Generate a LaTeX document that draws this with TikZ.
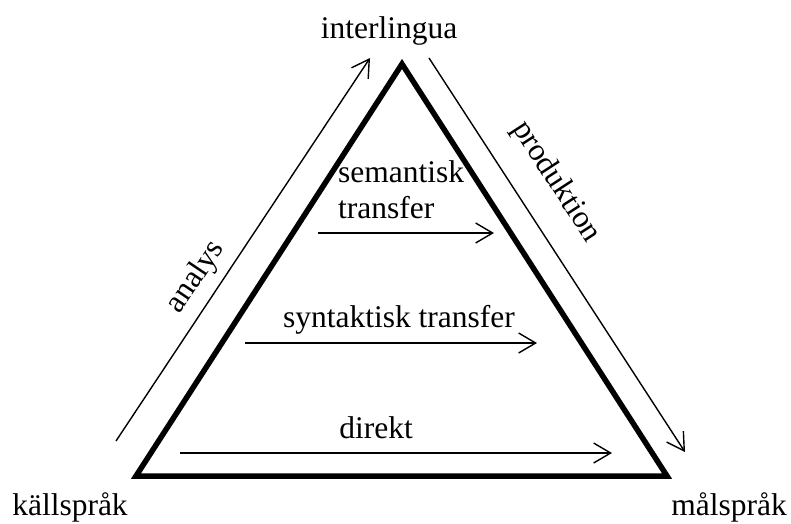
\documentclass[tikz,border=0pt]{standalone}
\usepackage{fontspec}
\setmainfont{Liberation Serif}
\usetikzlibrary{arrows.meta}
\begin{document}
\begin{tikzpicture}[x=1pt,y=-1pt,
  lbl/.style={font=\fontsize{31.5}{36}\selectfont, inner sep=0pt, anchor=base},
  arr/.style={line width=1.4pt, -{Straight Barb[length=17pt,width=20pt,line width=1.4pt]}},
  tri/.style={line width=5.5pt, line join=miter}]
\useasboundingbox (0,0) rectangle (791,523);
% triangle
\coordinate (L) at (136,476);
\coordinate (T) at (402,64);
\coordinate (R) at (667,476);
\draw[tri] (L) -- (T) -- (R) -- cycle;
% corner labels
\node[lbl] (il) at (389,38) {interlingua};
\node[lbl] (ks) at (70,515) {källspråk};
\node[lbl] (ms) at (729,515) {målspråk};
% analys arrow
\coordinate (a1) at (116,441);
\coordinate (a2) at (370,58);
\draw[arr] (a1) -- (a2);
\node[lbl, anchor=center, rotate=56] (an) at (196,277) {analys};
% produktion arrow
\coordinate (p1) at (429,58);
\coordinate (p2) at (685,452);
\draw[arr] (p1) -- (p2);
\node[lbl, anchor=center, rotate=-57] (pr) at (556,182) {produktion};
% semantisk transfer
\node[lbl, anchor=base west] (sem) at (338,182) {semantisk};
\node[lbl, anchor=base west] (sem2) at (338,218) {transfer};
\coordinate (s1) at (318,233);
\coordinate (s2) at (494,233);
\draw[arr] (s1) -- (s2);
% syntaktisk transfer
\node[lbl] (syn) at (399,327) {syntaktisk transfer};
\coordinate (y1) at (245,343);
\coordinate (y2) at (537,343);
\draw[arr] (y1) -- (y2);
% direkt
\node[lbl] (dir) at (376,438) {direkt};
\coordinate (d1) at (180,453);
\coordinate (d2) at (612,453);
\draw[arr] (d1) -- (d2);
\end{tikzpicture}
\end{document}
